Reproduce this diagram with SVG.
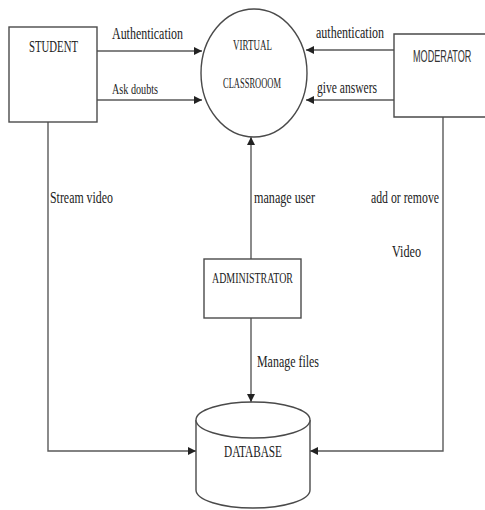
<svg xmlns="http://www.w3.org/2000/svg" width="485" height="510" viewBox="0 0 485 510">
<style>
.shape{fill:#fff;stroke:#4a4a4a;stroke-width:1.4}
.line{fill:none;stroke:#5a5a5a;stroke-width:1.4}
.t{font-family:"Liberation Serif","Times New Roman",serif;fill:#222;}
.s{font-family:"Liberation Sans",Arial,sans-serif;fill:#333;}
</style>
<defs>
<marker id="arr" viewBox="0 0 10 10" refX="10" refY="5" markerWidth="8" markerHeight="8" markerUnits="userSpaceOnUse" orient="auto">
<path d="M0,0 L10,5 L0,10 z" fill="#222"/>
</marker>
</defs>
<rect width="485" height="510" fill="#fff"/>
<g id="connectors">
<line class="line" x1="97" y1="51" x2="202" y2="51" marker-end="url(#arr)"/>
<line class="line" x1="97" y1="100" x2="202" y2="100" marker-end="url(#arr)"/>
<line class="line" x1="394" y1="50" x2="306" y2="50" marker-end="url(#arr)"/>
<line class="line" x1="394" y1="100" x2="306" y2="100" marker-end="url(#arr)"/>
<line class="line" x1="251" y1="259" x2="251" y2="137" marker-end="url(#arr)"/>
<line class="line" x1="251" y1="318" x2="251" y2="402" marker-end="url(#arr)"/>
<polyline class="line" points="48,122 48,451 196,451" marker-end="url(#arr)"/>
<polyline class="line" points="443,117 443,451 310,451" marker-end="url(#arr)"/>
<text class="t" x="112" y="39" font-size="16" textLength="71" lengthAdjust="spacingAndGlyphs">Authentication</text>
<text class="t" x="112" y="94" font-size="15" textLength="46" lengthAdjust="spacingAndGlyphs">Ask doubts</text>
<text class="t" x="316" y="38" font-size="16" textLength="68" lengthAdjust="spacingAndGlyphs">authentication</text>
<text class="t" x="317" y="93" font-size="16" textLength="60" lengthAdjust="spacingAndGlyphs">give answers</text>
<text class="t" x="50" y="203" font-size="17" textLength="63" lengthAdjust="spacingAndGlyphs">Stream video</text>
<text class="t" x="254" y="203" font-size="17" textLength="61" lengthAdjust="spacingAndGlyphs">manage user</text>
<text class="t" x="371" y="203" font-size="17" textLength="68" lengthAdjust="spacingAndGlyphs">add or remove</text>
<text class="t" x="392" y="257" font-size="17" textLength="29" lengthAdjust="spacingAndGlyphs">Video</text>
<text class="t" x="257" y="367" font-size="17" textLength="62" lengthAdjust="spacingAndGlyphs">Manage files</text>
</g>
<g id="student">
<rect class="shape" x="9" y="27" width="88" height="95"/>
<text class="t" x="29" y="52" font-size="17" textLength="49" lengthAdjust="spacingAndGlyphs">STUDENT</text>
</g>
<g id="virtual-classroom">
<ellipse class="shape" cx="254" cy="73" rx="53" ry="64"/>
<text class="t" x="233" y="50" font-size="15" textLength="39" lengthAdjust="spacingAndGlyphs">VIRTUAL</text>
<text class="t" x="223" y="88" font-size="15" textLength="58" lengthAdjust="spacingAndGlyphs">CLASSROOOM</text>
</g>
<g id="moderator">
<path class="shape" d="M486,34 H394 V117 H486"/>
<text class="s" transform="translate(413,62) scale(0.57,1)" x="0" y="0" font-size="16">MODERATOR</text>
</g>
<g id="administrator">
<rect class="shape" x="204" y="259" width="97" height="59"/>
<text class="t" x="212" y="283" font-size="14" textLength="81" lengthAdjust="spacingAndGlyphs">ADMINISTRATOR</text>
</g>
<g id="database">
<path class="shape" d="M196,420 L196,490 A57,18 0 0 0 310,490 L310,420"/>
<ellipse class="shape" cx="253" cy="420" rx="57" ry="18"/>
<text class="t" x="224" y="457" font-size="16" textLength="58" lengthAdjust="spacingAndGlyphs">DATABASE</text>
</g>
</svg>
